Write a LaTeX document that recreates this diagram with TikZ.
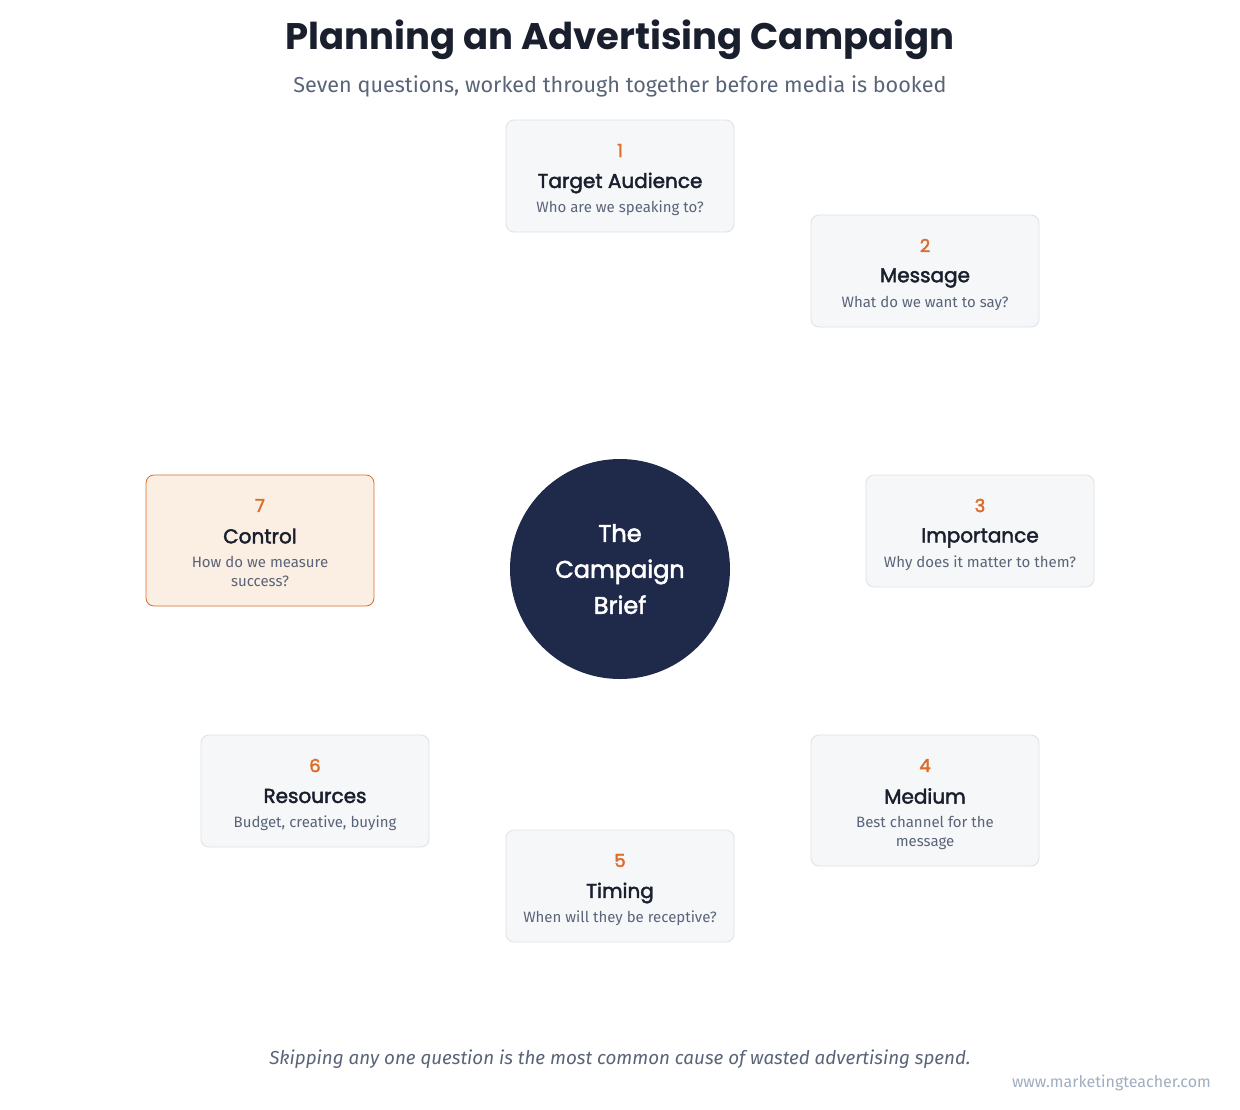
\documentclass[tikz,border=0pt]{standalone}
\usepackage{fontspec}
\setmainfont{Fira Sans}
\newfontfamily\headfont{Poppins}
\newfontfamily\headmed{Poppins}[FakeBold=2.2]
\definecolor{ink}{HTML}{1A1F2E}
\definecolor{subgray}{HTML}{5A6478}
\definecolor{accent}{HTML}{DC6D2A}
\definecolor{cardfill}{HTML}{F6F7F9}
\definecolor{cardline}{HTML}{DDE1E7}
\definecolor{hifill}{HTML}{FBEEE2}
\definecolor{navy}{HTML}{1F2A4A}
\definecolor{urlgray}{HTML}{A0AEC0}
\tikzset{
  card/.style={draw=cardline, fill=cardfill, rounded corners=8pt, line width=0.8pt, minimum width=228pt, minimum height=112pt, inner sep=0pt},
  tallcard/.style={card, minimum height=131pt},
  hicard/.style={tallcard, draw=accent, fill=hifill},
  numtxt/.style={text=accent, font=\headmed\fontsize{18}{20}\selectfont, inner sep=0pt},
  headtxt/.style={text=ink, font=\headmed\fontsize{20}{22}\selectfont, inner sep=0pt},
  subtxt/.style={text=subgray, font=\fontsize{15}{19}\selectfont, inner sep=0pt, align=center},
}
\begin{document}
\begin{tikzpicture}[x=1pt,y=-1pt]
\useasboundingbox[fill=white] (0,0) rectangle (1240,1109);
% title
\node[text=ink, font=\headfont\bfseries\fontsize{37}{42}\selectfont, inner sep=0pt] (title) at (620,40) {Planning an Advertising Campaign};
\node[text=subgray, font=\fontsize{21.6}{25}\selectfont, inner sep=0pt] (subtitle) at (620,86) {Seven questions, worked through together before media is booked};
% centre
\node[circle, fill=navy, minimum size=220pt, inner sep=0pt, text=white, align=center, font=\headmed\fontsize{24}{36}\selectfont] (hub) at (620,569) {The\\Campaign\\Brief};
% cards
\node[card] (c1) at (620,176) {};
\node[numtxt] (n1) at (620,150.5) {1};
\node[headtxt] (h1) at (620,183) {Target Audience};
\node[subtxt] (s1) at (620,208) {Who are we speaking to?};

\node[card] (c2) at (925,271) {};
\node[numtxt] (n2) at (925,245.5) {2};
\node[headtxt] (h2) at (925,278) {Message};
\node[subtxt] (s2) at (925,303) {What do we want to say?};

\node[card] (c3) at (980,531) {};
\node[numtxt] (n3) at (980,505.5) {3};
\node[headtxt] (h3) at (980,538) {Importance};
\node[subtxt] (s3) at (980,563) {Why does it matter to them?};

\node[tallcard] (c4) at (925,800.5) {};
\node[numtxt] (n4) at (925,765.5) {4};
\node[headtxt] (h4) at (925,796) {Medium};
\node[subtxt, anchor=north] (s4) at (925,816) {Best channel for the\\message};

\node[card] (c5) at (620,886) {};
\node[numtxt] (n5) at (620,860.5) {5};
\node[headtxt] (h5) at (620,893) {Timing};
\node[subtxt] (s5) at (620,918) {When will they be receptive?};

\node[card] (c6) at (315,791) {};
\node[numtxt] (n6) at (315,765.5) {6};
\node[headtxt] (h6) at (315,796) {Resources};
\node[subtxt] (s6) at (315,823) {Budget, creative, buying};

\node[hicard] (c7) at (260,540.5) {};
\node[numtxt] (n7) at (260,505.5) {7};
\node[headtxt] (h7) at (260,536) {Control};
\node[subtxt, anchor=north] (s7) at (260,556) {How do we measure\\success?};
% footer
\node[text=subgray, font=\itshape\fontsize{18.8}{22}\selectfont, inner sep=0pt] (foot) at (620,1059) {Skipping any one question is the most common cause of wasted advertising spend.};
\node[text=urlgray, font=\fontsize{16}{18}\selectfont, inner sep=0pt, anchor=east] (url) at (1211,1083) {www.marketingteacher.com};
\end{tikzpicture}
\end{document}
